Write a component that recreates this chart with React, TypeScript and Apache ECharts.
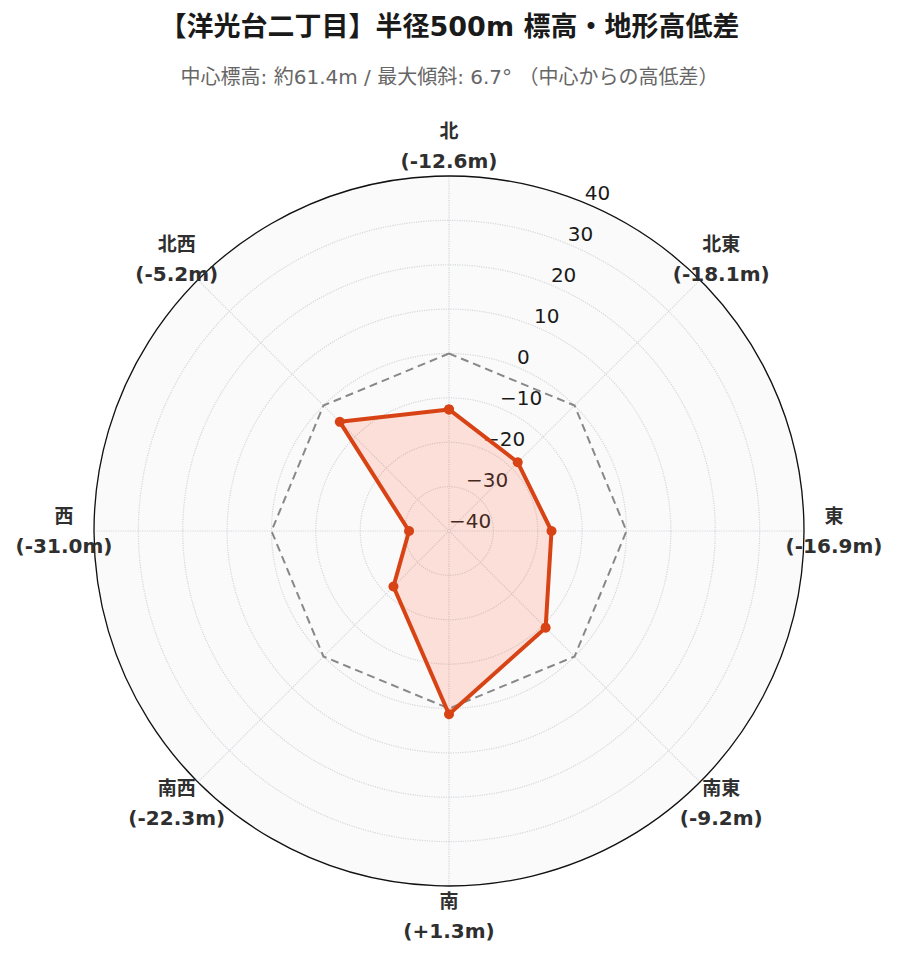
import React, { useEffect, useRef } from "react";
import * as echarts from "echarts";

// 方位ごとの中心からの高低差 (m)
const directions = ["北", "北東", "東", "南東", "南", "南西", "西", "北西"];
const bearings = [0, 45, 90, 135, 180, 225, 270, 315];
const elevationDiffs = [-12.6, -18.1, -16.9, -9.2, 1.3, -22.3, -31.0, -5.2];
const referenceLevel = [0, 0, 0, 0, 0, 0, 0, 0];
const radialMin = -40;
const radialMax = 40;
const radialStep = 10;

const TITLE = "【洋光台二丁目】半径500m 標高・地形高低差";
const SUBTITLE = "中心標高: 約61.4m / 最大傾斜: 6.7° （中心からの高低差）";

const LATIN_FONT = "'DejaVu Sans', 'Noto Sans CJK JP', sans-serif";
const LABEL_COLOR = "#2f2f2f";

// polar line を閉じるため、最初の点を 360° に追加
const closeLoop = (values: number[]) =>
  values.map((v, i) => [v, bearings[i]]).concat([[values[0], 360]]);

const formatDiff = (v: number) => `(${v > 0 ? "+" : ""}${v.toFixed(1)}m)`;
const formatTick = (v: number) => (v < 0 ? `\u2212${Math.abs(v)}` : `${v}`);

const App: React.FC = () => {
  const chartRef = useRef<HTMLDivElement>(null);

  useEffect(() => {
    if (!chartRef.current) return;
    const chart = echarts.init(chartRef.current, null, { renderer: "svg" });
    const center = [449, 531];
    const gridLine = { color: "#d3d7dc", type: "dotted", width: 1.2 };

    chart.setOption({
      animation: false,
      backgroundColor: "#ffffff",
      title: {
        text: TITLE,
        subtext: SUBTITLE,
        left: "center",
        top: 8,
        itemGap: 27,
        textStyle: {
          fontSize: 27,
          fontWeight: "bold",
          color: "#1a1a1a",
          fontFamily: LATIN_FONT,
        },
        subtextStyle: {
          fontSize: 20,
          color: "#666",
          fontFamily: LATIN_FONT,
        },
      },
      polar: [
        { center, radius: 355 },
        { center, radius: 355 },
        { center, radius: 385 },
      ],
      angleAxis: [
        {
          polarIndex: 0,
          type: "value",
          min: 0,
          max: 360,
          interval: 45,
          startAngle: 90,
          clockwise: true,
          z: 1,
          axisLine: { lineStyle: { color: "#111", width: 1.3 } },
          axisTick: { show: false },
          axisLabel: { show: false },
          splitLine: { lineStyle: gridLine },
        },
        {
          // 背景の塗り (最背面)
          polarIndex: 1,
          type: "value",
          min: 0,
          max: 360,
          startAngle: 67.5,
          z: 0,
          axisLine: { show: false },
          axisTick: { show: false },
          axisLabel: { show: false },
          splitLine: { show: false },
          splitArea: { show: true, areaStyle: { color: ["#fafafa"] } },
        },
        {
          polarIndex: 2,
          type: "value",
          min: 0,
          max: 360,
          startAngle: 90,
          show: false,
        },
      ],
      radiusAxis: [
        {
          polarIndex: 0,
          type: "value",
          min: radialMin,
          max: radialMax,
          interval: radialStep,
          z: 1,
          axisLine: { show: false },
          axisTick: { show: false },
          axisLabel: { show: false },
          splitLine: { lineStyle: gridLine },
        },
        {
          polarIndex: 1,
          type: "value",
          min: radialMin,
          max: radialMax,
          interval: radialStep,
          z: 1,
          axisLine: { show: false },
          axisTick: { show: false },
          splitLine: { show: false },
          axisLabel: {
            show: true,
            margin: 0,
            align: "left",
            verticalAlign: "bottom",
            showMinLabel: true,
            showMaxLabel: true,
            fontSize: 20,
            color: "#1a1a1a",
            fontFamily: LATIN_FONT,
            formatter: formatTick,
          },
        },
        {
          polarIndex: 2,
          type: "value",
          min: 0,
          max: 1,
          show: false,
        },
      ],
      series: [
        {
          name: "基準 (0m)",
          type: "line",
          coordinateSystem: "polar",
          polarIndex: 0,
          data: closeLoop(referenceLevel),
          symbol: "none",
          lineStyle: { color: "#888", width: 2, type: [8, 5] },
          z: 2,
        },
        {
          name: "高低差",
          type: "line",
          coordinateSystem: "polar",
          polarIndex: 0,
          data: closeLoop(elevationDiffs),
          symbol: "circle",
          symbolSize: 10,
          itemStyle: { color: "#d84315" },
          lineStyle: { color: "#d84315", width: 4 },
          areaStyle: {
            color: "rgba(255, 99, 60, 0.18)",
            opacity: 1,
            origin: "start",
          },
          z: 3,
        },
        {
          name: "方位ラベル",
          type: "scatter",
          coordinateSystem: "polar",
          polarIndex: 2,
          clip: false,
          silent: true,
          data: bearings.map((b) => [1, b]),
          symbol: "circle",
          symbolSize: 0,
          itemStyle: { color: "#ffffff" },
          label: {
            show: true,
            position: "inside",
            color: LABEL_COLOR,
            opacity: 1,
            textBorderWidth: 0,
            formatter: (p: any) =>
              `{d|${directions[p.dataIndex]}}\n{v|${formatDiff(elevationDiffs[p.dataIndex])}}`,
            rich: {
              d: {
                fontSize: 19,
                fontWeight: "bold",
                color: LABEL_COLOR,
                lineHeight: 30,
                align: "center",
                fontFamily: LATIN_FONT,
              },
              v: {
                fontSize: 20,
                fontWeight: "bold",
                color: LABEL_COLOR,
                lineHeight: 30,
                align: "center",
                fontFamily: LATIN_FONT,
              },
            },
          },
        },
      ],
    });

    return () => {
      chart.dispose();
    };
  }, []);

  return (
    <div
      ref={chartRef}
      style={{ position: "fixed", left: 0, top: 0, width: 899, height: 962 }}
    ></div>
  );
};

export default App;
